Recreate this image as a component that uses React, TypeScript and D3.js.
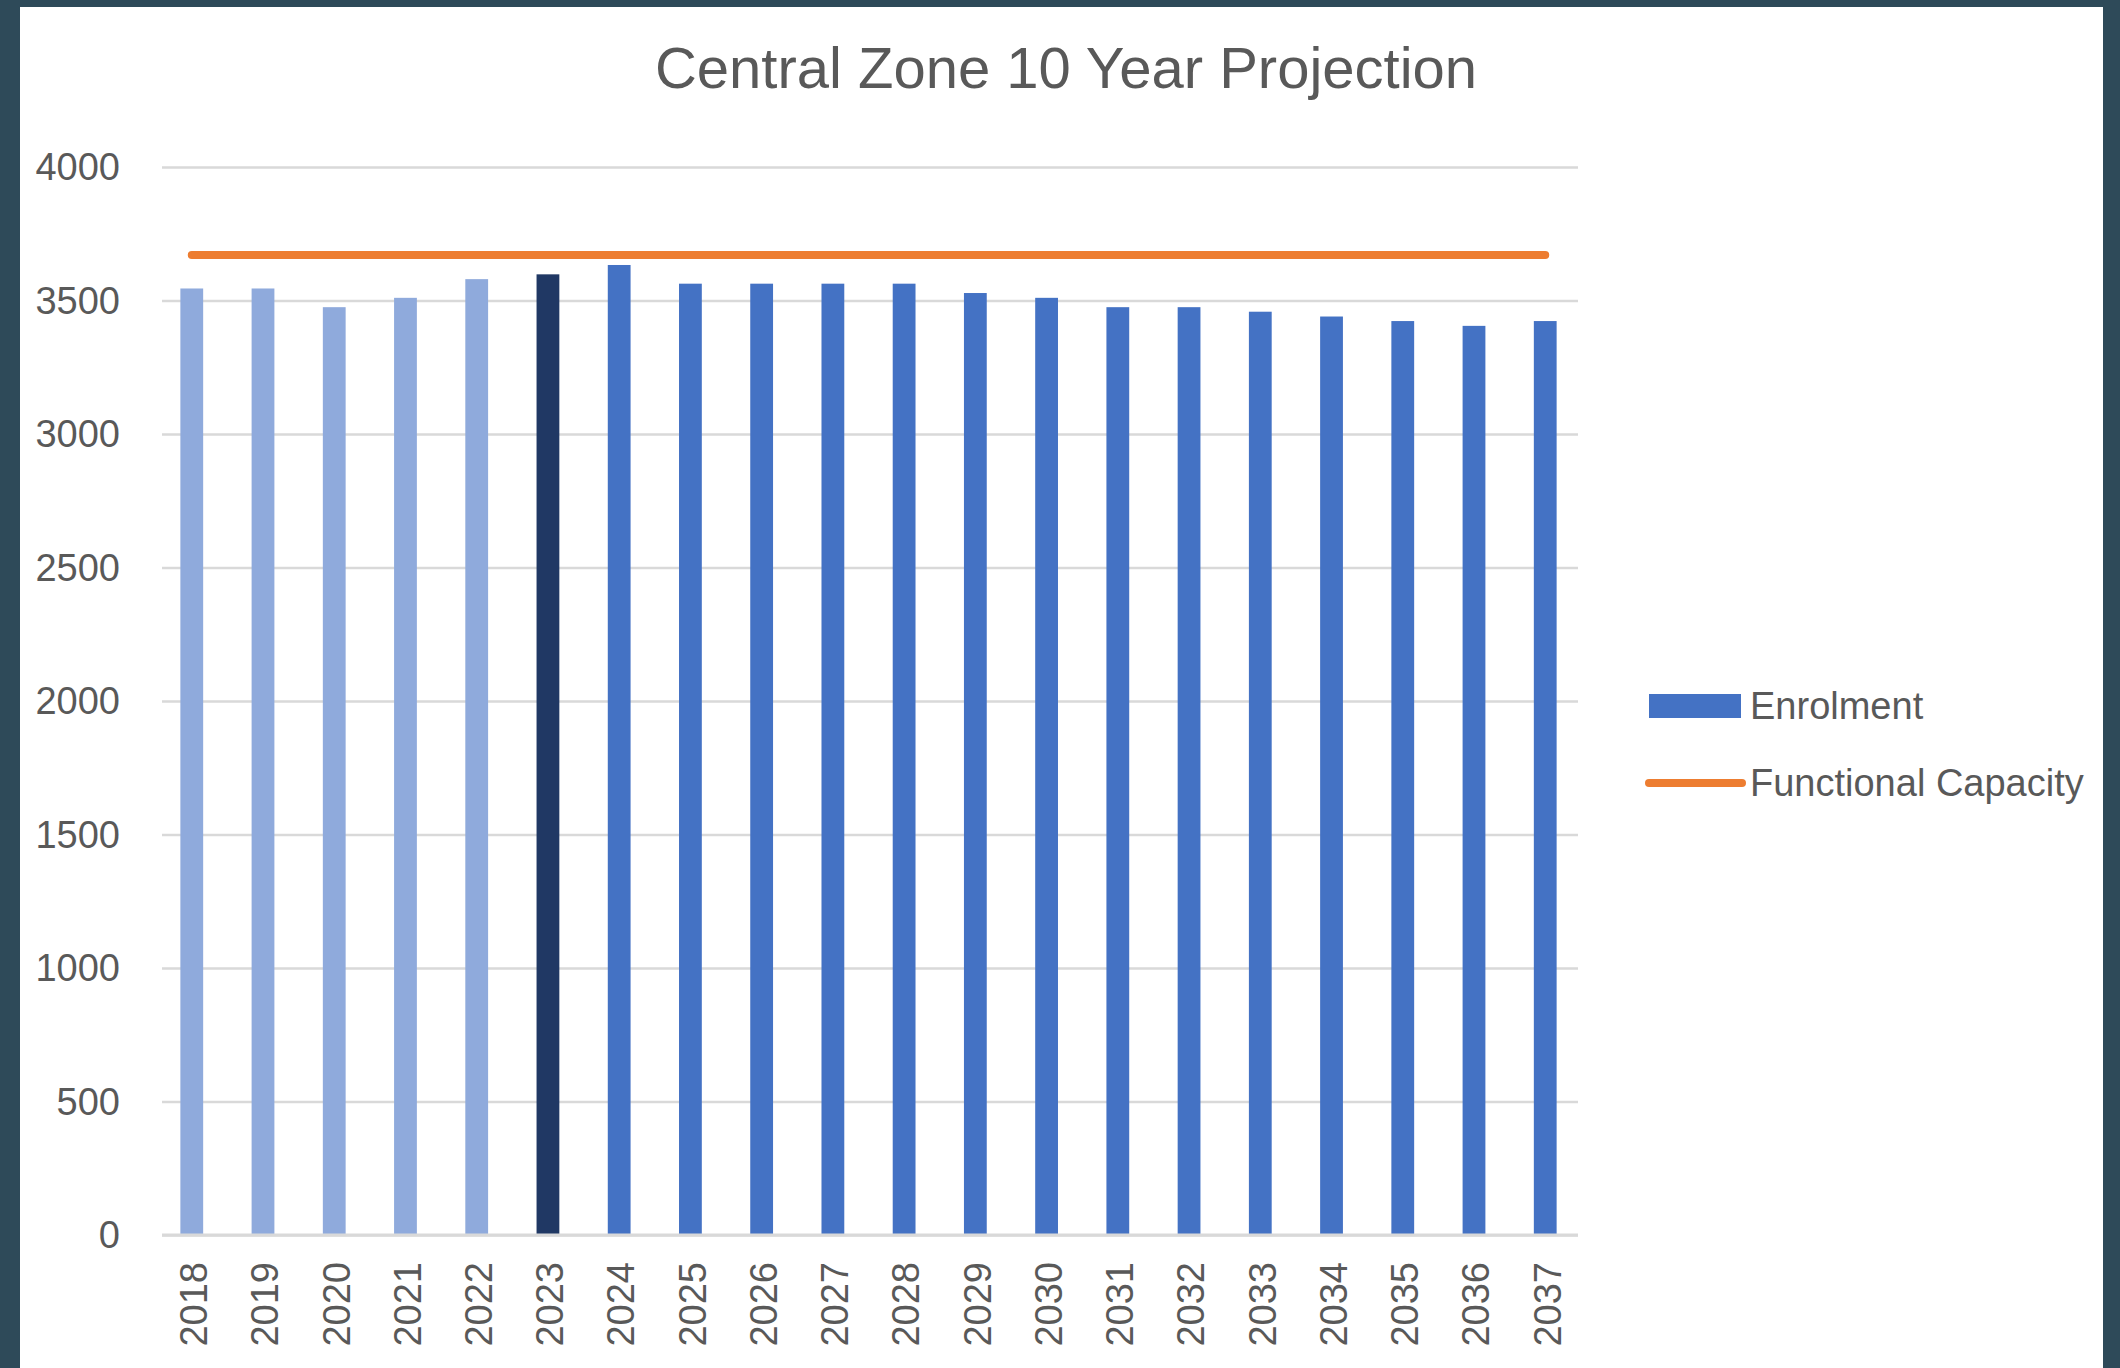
import { useEffect, useRef } from 'react';
import * as d3 from 'd3';

const years = ['2018', '2019', '2020', '2021', '2022', '2023', '2024', '2025', '2026', '2027',
  '2028', '2029', '2030', '2031', '2032', '2033', '2034', '2035', '2036', '2037'];
const enrolment = [3545, 3545, 3475, 3510, 3580, 3598, 3633, 3563, 3563, 3563,
  3563, 3528, 3510, 3475, 3475, 3458, 3440, 3423, 3405, 3423];
const functionalCapacity = 3670;
const yTicks = [0, 500, 1000, 1500, 2000, 2500, 3000, 3500, 4000];
const currentYear = '2023';
const title = 'Central Zone 10 Year Projection';
const legendLabels = ['Enrolment', 'Functional Capacity'];

const App = () => {
  const svgRef = useRef(null);

  useEffect(() => {
    if (!svgRef.current) return;
    document.body.style.margin = '0';

    const svg = d3.select(svgRef.current);
    svg.selectAll('*').remove();

    const width = 2120;
    const height = 1368;
    const margin = { top: 167, right: 542, bottom: 133, left: 162 };
    const font = '"Liberation Sans", Arial, sans-serif';
    const textColor = '#595959';

    // Frame
    svg.append('rect').attr('width', width).attr('height', height).attr('fill', '#2e4a59');
    svg.append('rect').attr('x', 20).attr('y', 7).attr('width', 2083).attr('height', height - 7).attr('fill', '#fff');

    // Scales
    const x = d3.scaleBand()
      .domain(years)
      .range([margin.left - 3, width - margin.right])
      .paddingInner(0.68)
      .paddingOuter(0.3);

    const y = d3.scaleLinear()
      .domain([0, 4000])
      .range([height - margin.bottom, margin.top]);

    // Grid lines
    svg.append('g')
      .attr('transform', `translate(${margin.left},0)`)
      .call(d3.axisLeft(y)
        .tickValues(yTicks)
        .tickSize(-(width - margin.left - margin.right))
        .tickFormat(() => ''))
      .call(g => g.select('.domain').remove())
      .selectAll('line')
      .attr('stroke', '#d9d9d9')
      .attr('stroke-width', 2.6);

    // Y labels
    svg.append('g')
      .selectAll('text')
      .data(yTicks)
      .enter()
      .append('text')
      .attr('x', 120)
      .attr('y', d => y(d))
      .attr('dy', '0.35em')
      .attr('text-anchor', 'end')
      .attr('fill', textColor)
      .style('font-family', font)
      .style('font-size', '38px')
      .text(d => d);

    // Bars
    svg.append('g')
      .selectAll('rect')
      .data(years)
      .enter()
      .append('rect')
      .attr('x', d => x(d))
      .attr('y', (d, i) => y(enrolment[i]))
      .attr('width', x.bandwidth())
      .attr('height', (d, i) => y(0) - y(enrolment[i]))
      .attr('fill', d => d < currentYear ? '#8faadc' : d === currentYear ? '#203864' : '#4472c4');

    // Axis line
    svg.append('line')
      .attr('x1', margin.left)
      .attr('x2', width - margin.right)
      .attr('y1', y(0))
      .attr('y2', y(0))
      .attr('stroke', '#d9d9d9')
      .attr('stroke-width', 3);

    // X labels
    svg.append('g')
      .selectAll('text')
      .data(years)
      .enter()
      .append('text')
      .attr('transform', d => `translate(${x(d) + x.bandwidth() / 2 + 2},${y(0) + 27}) rotate(-90)`)
      .attr('dy', '0.35em')
      .attr('text-anchor', 'end')
      .attr('fill', textColor)
      .style('font-family', font)
      .style('font-size', '38px')
      .text(d => d);

    // Capacity line
    const line = d3.line()
      .x(d => x(d) + x.bandwidth() / 2)
      .y(() => y(functionalCapacity));

    svg.append('path')
      .datum(years)
      .attr('fill', 'none')
      .attr('stroke', '#ed7d31')
      .attr('stroke-width', 8)
      .attr('stroke-linecap', 'round')
      .attr('d', line);

    // Title
    svg.append('text')
      .attr('x', 1066)
      .attr('y', 88)
      .attr('text-anchor', 'middle')
      .attr('fill', textColor)
      .style('font-family', font)
      .style('font-size', '58px')
      .text(title);

    // Legend
    const legend = svg.append('g').attr('transform', 'translate(1645,706)');
    legend.append('rect')
      .attr('x', 4).attr('y', -12)
      .attr('width', 92).attr('height', 24)
      .attr('fill', '#4472c4');
    legend.append('line')
      .attr('x1', 4).attr('x2', 97)
      .attr('y1', 77).attr('y2', 77)
      .attr('stroke', '#ed7d31')
      .attr('stroke-width', 8)
      .attr('stroke-linecap', 'round');
    legend.selectAll('text.lbl')
      .data(legendLabels)
      .enter()
      .append('text')
      .attr('class', 'lbl')
      .attr('x', 105)
      .attr('y', (d, i) => i * 77)
      .attr('dy', '0.35em')
      .attr('fill', textColor)
      .style('font-family', font)
      .style('font-size', '38px')
      .text(d => d);
  }, []);

  return (
    <div style={{ position: 'absolute', left: 0, top: 0 }}>
      <svg ref={svgRef} width={2120} height={1368} style={{ display: 'block' }} />
    </div>
  );
};

export default App;
